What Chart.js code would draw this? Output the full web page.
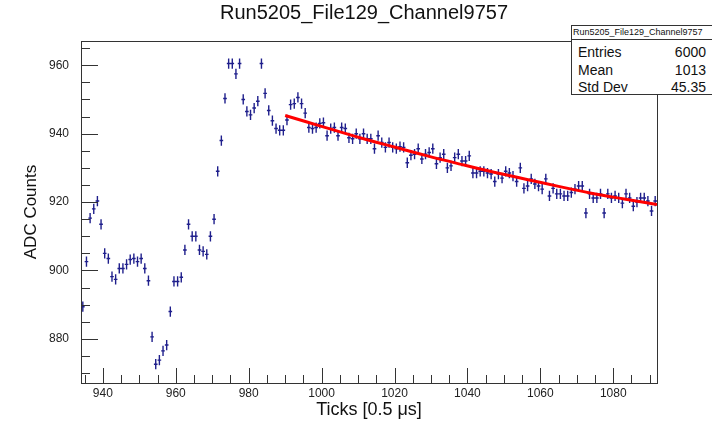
<!DOCTYPE html>
<html>
<head>
<meta charset="utf-8">
<script src="https://cdn.jsdelivr.net/npm/chart.js@4/dist/chart.umd.min.js"></script>
<style>
  html, body { margin: 0; padding: 0; background: #fff; }
  #wrap { position: relative; width: 712px; height: 422px; overflow: hidden; font-family: 'Liberation Sans', Arial, Helvetica, sans-serif; }
  #title { position: absolute; left: 0; width: 728px; top: 0; height: 24px; line-height: 24px; text-align: center; font-size: 20px; color: #111; }
  #stats { position: absolute; left: 571px; top: 25px; width: 146px; height: 70px; box-sizing: border-box;
           border: 1px solid #333; background: #fff; color: #111; }
  #stats .head { height: 13px; line-height: 13px; border-bottom: 1px solid #333; font-size: 9px; padding-left: 1px; white-space: nowrap; }
  #stats .rows { padding: 4px 10px 0 6px; }
  #stats .row { display: flex; justify-content: space-between; font-size: 14px; line-height: 17.5px; }
</style>
</head>
<body>
<div id="wrap">
  <canvas id="chart" width="712" height="422"></canvas>
  <div id="title">Run5205_File129_Channel9757</div>
  <div id="stats">
    <div class="head">Run5205_File129_Channel9757</div>
    <div class="rows" id="statsRows"></div>
  </div>
</div>
<script>
// histogram: one bin per tick, first bin starts at 934
var firstBinCenter = 934.5;
var adcCounts = [
  889.4, 902.6, 915.3, 918, 920.3, 913.5, 905, 903.5, 898.2, 897.4,
  900.6, 900.6, 901.8, 903.2, 903.5, 902.6, 903.5, 900.6, 897, 880.6,
  872.6, 873.8, 876.5, 878.2, 888, 896.8, 896.8, 898, 906, 913.5,
  910, 910, 906, 905.6, 904.7, 910, 915, 929, 938, 950.3,
  960.5, 960.5, 957.5, 960.5, 950, 946.5, 945.5, 947.5, 949.5, 960.5,
  951.8, 946.8, 943.8, 941.5, 941, 941, 944, 948.5, 948.8, 950.6,
  948.8, 946, 941.8, 941.5, 941.8, 943, 943.2, 939.4, 941.5, 941.8,
  939.4, 941.8, 941.5, 938.8, 938.5, 940, 938.5, 940, 938.5, 938.5,
  935.6, 939.4, 937.4, 936, 937.4, 936, 935.6,
  936.2, 936, 931.5, 933.7, 934, 935.6, 932.6, 934, 934.5, 935.6,
  931.2, 933, 934, 930, 930.6, 933, 934, 932, 932, 933.5,
  928.5, 928.5, 929, 929, 928.5, 928.2, 926, 928.2, 927, 929,
  928.5, 927.6, 926, 930,
  924, 924.7, 926.8, 925.3, 924.7, 923.8, 926.8, 921.8, 924, 922.4,
  922.4, 921.8, 921.8, 922.8, 923.8, 924.7, 924.7, 916.8, 922.4, 921.2,
  921.2, 922.4, 916.8, 922.4, 921.2, 921.8, 921.2, 919.7, 922.4, 921.2,
  918.8, 920, 921.2, 921.2, 920.3, 917.4, 920.3
];
var adcError = 1.5;
var binCenters = adcCounts.map(function(v, i) { return firstBinCenter + i; });

// fit curve
var fitTicks  = [990, 996, 1003, 1009, 1015, 1021, 1029, 1038, 1047, 1056, 1065, 1074, 1083, 1092];
var fitCounts = [945.3, 943.4, 941.2, 939.3, 937.5, 935.8, 933.5, 931.1, 928.8, 926.7, 924.6, 922.6, 920.9, 919.3];

var xTickLabels = [940, 960, 980, 1000, 1020, 1040, 1060, 1080];
var yTickLabels = [880, 900, 920, 940, 960];

var statsLabels = ['Entries', 'Mean', 'Std Dev'];
var statsValues = ['6000', '1013', '45.35'];

var font = "'Liberation Sans', Arial, Helvetica, sans-serif";
var markerColor = '#1f1f8c';

// stats box rows
var rowsEl = document.getElementById('statsRows');
statsLabels.forEach(function(lab, i) {
  var row = document.createElement('div');
  row.className = 'row';
  row.innerHTML = '<span>' + lab + '</span><span>' + statsValues[i] + '</span>';
  rowsEl.appendChild(row);
});

// ROOT look: error-bar crosses, frame and inside ticks
var rootStyle = {
  id: 'rootStyle',
  beforeDatasetsDraw: function(chart) {
    var c = chart.ctx, xs = chart.scales.x, ys = chart.scales.y, a = chart.chartArea;
    c.save();
    c.beginPath();
    c.rect(a.left, a.top, a.right - a.left, a.bottom - a.top);
    c.clip();
    c.strokeStyle = markerColor;
    c.lineWidth = 1.4;
    c.beginPath();
    for (var i = 0; i < adcCounts.length; i++) {
      var px = xs.getPixelForValue(binCenters[i]);
      var py = ys.getPixelForValue(adcCounts[i]);
      c.moveTo(px, ys.getPixelForValue(adcCounts[i] + adcError));
      c.lineTo(px, ys.getPixelForValue(adcCounts[i] - adcError));
      c.moveTo(xs.getPixelForValue(binCenters[i] - 0.5), py);
      c.lineTo(xs.getPixelForValue(binCenters[i] + 0.5), py);
    }
    c.stroke();
    c.restore();
  },
  afterDraw: function(chart) {
    var c = chart.ctx, xs = chart.scales.x, ys = chart.scales.y, a = chart.chartArea;
    c.save();
    c.strokeStyle = '#333';
    c.lineWidth = 1;
    c.strokeRect(Math.round(a.left) + 0.5, Math.round(a.top) + 0.5,
                 Math.round(a.right - a.left), Math.round(a.bottom - a.top));
    c.beginPath();
    for (var v = 935; v <= 1090; v += 5) {
      var px = Math.round(xs.getPixelForValue(v)) + 0.5;
      var len = (v % 20 === 0) ? 15 : 8;
      c.moveTo(px, a.bottom);
      c.lineTo(px, a.bottom - len);
    }
    for (var w = 870; w <= 965; w += 5) {
      var py = Math.round(ys.getPixelForValue(w)) + 0.5;
      var ln = (w % 20 === 0) ? 17 : 9;
      c.moveTo(a.left, py);
      c.lineTo(a.left + ln, py);
    }
    c.stroke();
    c.restore();
  }
};

var ctx = document.getElementById('chart').getContext('2d');
new Chart(ctx, {
  type: 'scatter',
  data: {
    datasets: [
      {
        label: 'ADC',
        data: binCenters.map(function(x, i) { return {x: x, y: adcCounts[i]}; }),
        pointRadius: 0,
        showLine: false,
        borderColor: markerColor
      },
      {
        label: 'fit',
        data: fitTicks.map(function(x, i) { return {x: x, y: fitCounts[i]}; }),
        showLine: true,
        borderColor: '#ff0000',
        borderWidth: 3,
        pointRadius: 0,
        tension: 0.4
      }
    ]
  },
  options: {
    responsive: false,
    animation: false,
    layout: { padding: { left: 16, right: 55, top: 41, bottom: 0 } },
    plugins: {
      legend: { display: false },
      tooltip: { enabled: false },
      title: { display: false }
    },
    scales: {
      x: {
        type: 'linear', min: 934, max: 1092,
        grid: { display: false, drawTicks: false },
        border: { display: false },
        afterBuildTicks: function(s) { s.ticks = xTickLabels.map(function(v) { return {value: v}; }); },
        ticks: { font: { family: font, size: 12 }, color: '#222', padding: 3, maxRotation: 0,
                 callback: function(v) { return String(v); } },
        title: { display: true, text: 'Ticks [0.5 μs]', font: { family: font, size: 18 }, color: '#111',
                 padding: { top: 0, bottom: 1 } },
        afterFit: function(s) { s.height = 39; }
      },
      y: {
        type: 'linear', min: 867.1, max: 967.1,
        grid: { display: false, drawTicks: false },
        border: { display: false },
        afterBuildTicks: function(s) { s.ticks = yTickLabels.map(function(v) { return {value: v}; }); },
        ticks: { font: { family: font, size: 12 }, color: '#222', padding: 12,
                 callback: function(v) { return String(v); } },
        title: { display: true, text: 'ADC Counts', font: { family: font, size: 17 }, color: '#111',
                 padding: { top: 5, bottom: 0 } },
        afterFit: function(s) { s.width = 65; }
      }
    }
  },
  plugins: [rootStyle]
});
</script>
</body>
</html>
